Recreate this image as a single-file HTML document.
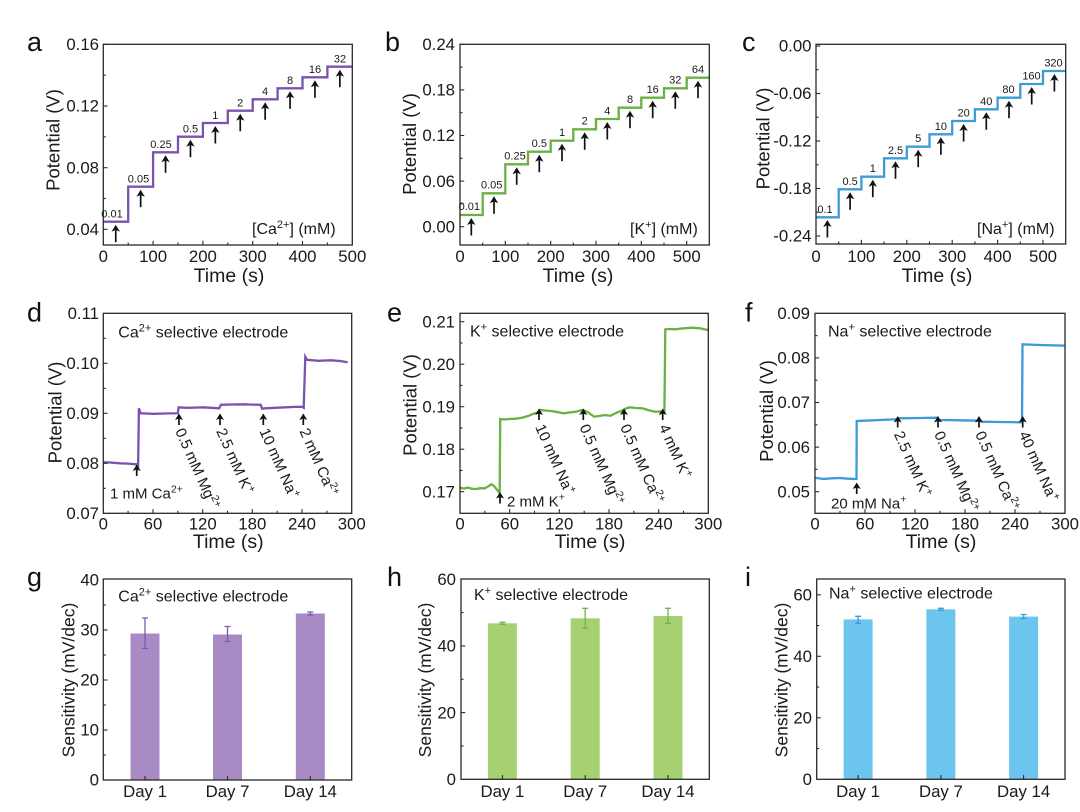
<!DOCTYPE html>
<html><head><meta charset="utf-8"><style>
html,body{margin:0;padding:0;background:#fff;}
svg{display:block;font-family:"Liberation Sans",Arial,sans-serif;}
.fr{fill:none;stroke:#2a2a2a;stroke-width:1.3}
.tk{stroke:#2a2a2a;stroke-width:1.1}
.tl{font-size:16.8px;fill:#1a1a1a}
.at{font-size:18.5px;fill:#1a1a1a}
.tt{font-size:19.5px;fill:#1a1a1a}
.pl{font-size:27px;fill:#111}
.sl{font-size:11px;fill:#1a1a1a;text-anchor:middle}
.an{font-size:15px;fill:#1a1a1a}
.lg{font-size:16px;fill:#1a1a1a}
.pu{fill:none;stroke:#7b52b0;stroke-width:2.3}
.gr{fill:none;stroke:#6ab043;stroke-width:2.3}
.bl{fill:none;stroke:#3d9bd8;stroke-width:2.3}
</style></head><body>
<svg width="1080" height="812" viewBox="0 0 1080 812" xmlns="http://www.w3.org/2000/svg">
<defs>
<g id="aL"><path d="M0,0 L-4.2,7 L0,5.2 L4.2,7 Z" fill="#111"/><line x1="0" y1="4" x2="0" y2="17.5" stroke="#111" stroke-width="1.7"/></g>
<g id="aS"><path d="M0,0 L-4,6.5 L0,5 L4,6.5 Z" fill="#111"/><line x1="0" y1="4" x2="0" y2="11.5" stroke="#111" stroke-width="1.7"/></g>
</defs>
<rect width="1080" height="812" fill="#fff"/>

<!-- ================= Panel a ================= -->
<text class="pl" x="27" y="51">a</text>
<path class="pu" d="M103.3,221.7 H128.2 V186.7 H153.1 V152.3 H178 V136.7 H202.9 V123 H227.8 V110.7 H252.7 V99.3 H277.6 V88.3 H302.5 V77.3 H327.4 V66.7 H352.3"/>
<rect class="fr" x="103.3" y="44.3" width="249" height="200.7"/>
<g class="tk">
<line x1="103.3" y1="44.3" x2="107.5" y2="44.3"/><line x1="103.3" y1="106" x2="107.5" y2="106"/><line x1="103.3" y1="167.7" x2="107.5" y2="167.7"/><line x1="103.3" y1="229.3" x2="107.5" y2="229.3"/>
<line x1="103.3" y1="75.2" x2="105.8" y2="75.2"/><line x1="103.3" y1="136.9" x2="105.8" y2="136.9"/><line x1="103.3" y1="198.5" x2="105.8" y2="198.5"/>
<line x1="153.1" y1="245" x2="153.1" y2="240.8"/><line x1="202.9" y1="245" x2="202.9" y2="240.8"/><line x1="252.7" y1="245" x2="252.7" y2="240.8"/><line x1="302.5" y1="245" x2="302.5" y2="240.8"/>
<line x1="128.2" y1="245" x2="128.2" y2="242.5"/><line x1="178" y1="245" x2="178" y2="242.5"/><line x1="227.8" y1="245" x2="227.8" y2="242.5"/><line x1="277.6" y1="245" x2="277.6" y2="242.5"/><line x1="327.4" y1="245" x2="327.4" y2="242.5"/>
</g>
<g class="tl" text-anchor="end">
<text x="99" y="50">0.16</text><text x="99" y="111.7">0.12</text><text x="99" y="173.4">0.08</text><text x="99" y="235">0.04</text>
</g>
<g class="tl" text-anchor="middle">
<text x="103.3" y="262">0</text><text x="153.1" y="262">100</text><text x="202.9" y="262">200</text><text x="252.7" y="262">300</text><text x="302.5" y="262">400</text><text x="352.3" y="262">500</text>
</g>
<text class="tt" x="229" y="282" text-anchor="middle">Time (s)</text>
<text class="at" transform="translate(59.7,140) rotate(-90)" text-anchor="middle">Potential (V)</text>
<g>
<use href="#aL" x="115.75" y="224.7"/><use href="#aL" x="140.65" y="189.7"/><use href="#aL" x="165.55" y="155.3"/><use href="#aL" x="190.45" y="139.7"/><use href="#aL" x="215.35" y="126"/><use href="#aL" x="240.25" y="113.7"/><use href="#aL" x="265.15" y="102.3"/><use href="#aL" x="290.05" y="91.3"/><use href="#aL" x="314.95" y="80.3"/><use href="#aL" x="339.85" y="69.7"/>
</g>
<g class="sl">
<text x="112" y="217.5">0.01</text><text x="138.5" y="182.5">0.05</text><text x="161" y="148">0.25</text><text x="190.5" y="132.5">0.5</text><text x="215.3" y="118.8">1</text><text x="240.2" y="106.5">2</text><text x="265.1" y="95">4</text><text x="290" y="84">8</text><text x="315" y="73">16</text><text x="340" y="62.3">32</text>
</g>
<text class="lg" x="252" y="234">[Ca<tspan font-size="11" dy="-6">2+</tspan><tspan dy="6">] (mM)</tspan></text>

<!-- ================= Panel b ================= -->
<text class="pl" x="385" y="51">b</text>
<path class="gr" d="M460,215 H482.7 V193.3 H505.3 V164.3 H528 V151.7 H550.7 V140.7 H573.3 V129.3 H596 V119 H618.7 V107.7 H641.3 V97.7 H664 V88.3 H686.7 V77.7 H709.3"/>
<rect class="fr" x="460" y="44.3" width="249.3" height="200.7"/>
<g class="tk">
<line x1="460" y1="44.3" x2="464.2" y2="44.3"/><line x1="460" y1="89.9" x2="464.2" y2="89.9"/><line x1="460" y1="135.5" x2="464.2" y2="135.5"/><line x1="460" y1="181.1" x2="464.2" y2="181.1"/><line x1="460" y1="226.7" x2="464.2" y2="226.7"/>
<line x1="460" y1="67.1" x2="462.5" y2="67.1"/><line x1="460" y1="112.7" x2="462.5" y2="112.7"/><line x1="460" y1="158.3" x2="462.5" y2="158.3"/><line x1="460" y1="203.9" x2="462.5" y2="203.9"/>
<line x1="505.3" y1="245" x2="505.3" y2="240.8"/><line x1="550.7" y1="245" x2="550.7" y2="240.8"/><line x1="596" y1="245" x2="596" y2="240.8"/><line x1="641.3" y1="245" x2="641.3" y2="240.8"/><line x1="686.7" y1="245" x2="686.7" y2="240.8"/>
<line x1="482.7" y1="245" x2="482.7" y2="242.5"/><line x1="528" y1="245" x2="528" y2="242.5"/><line x1="573.3" y1="245" x2="573.3" y2="242.5"/><line x1="618.7" y1="245" x2="618.7" y2="242.5"/><line x1="664" y1="245" x2="664" y2="242.5"/>
</g>
<g class="tl" text-anchor="end">
<text x="455" y="50">0.24</text><text x="455" y="95.6">0.18</text><text x="455" y="141.2">0.12</text><text x="455" y="186.8">0.06</text><text x="455" y="232.4">0.00</text>
</g>
<g class="tl" text-anchor="middle">
<text x="460" y="262">0</text><text x="505.3" y="262">100</text><text x="550.7" y="262">200</text><text x="596" y="262">300</text><text x="641.3" y="262">400</text><text x="686.7" y="262">500</text>
</g>
<text class="tt" x="578" y="282" text-anchor="middle">Time (s)</text>
<text class="at" transform="translate(416,144) rotate(-90)" text-anchor="middle">Potential (V)</text>
<g>
<use href="#aL" x="471.3" y="218"/><use href="#aL" x="494" y="196.3"/><use href="#aL" x="516.7" y="167.3"/><use href="#aL" x="539.3" y="154.7"/><use href="#aL" x="562" y="143.7"/><use href="#aL" x="584.7" y="132.3"/><use href="#aL" x="607.3" y="122"/><use href="#aL" x="630" y="110.7"/><use href="#aL" x="652.7" y="100.7"/><use href="#aL" x="675.3" y="91.3"/><use href="#aL" x="698" y="80.7"/>
</g>
<g class="sl">
<text x="469.3" y="210">0.01</text><text x="491.7" y="188.5">0.05</text><text x="515" y="159.5">0.25</text><text x="539.3" y="147">0.5</text><text x="562" y="136">1</text><text x="584.7" y="124.5">2</text><text x="607.3" y="114.3">4</text><text x="630" y="103">8</text><text x="652.7" y="93">16</text><text x="675.3" y="83.5">32</text><text x="698" y="73">64</text>
</g>
<text class="lg" x="630" y="234">[K<tspan font-size="11" dy="-6">+</tspan><tspan dy="6">] (mM)</tspan></text>

<!-- ================= Panel c ================= -->
<text class="pl" x="742" y="51">c</text>
<path class="bl" d="M816,217.3 H838.7 V189.3 H861.4 V176.7 H884.1 V158.3 H906.8 V146.7 H929.5 V134.3 H952.2 V121 H974.9 V109.3 H997.6 V97.7 H1020.3 V84 H1043 V71 H1065.7"/>
<rect class="fr" x="816" y="44.3" width="249.7" height="199.7"/>
<g class="tk">
<line x1="816" y1="46" x2="820.2" y2="46"/><line x1="816" y1="93.5" x2="820.2" y2="93.5"/><line x1="816" y1="141" x2="820.2" y2="141"/><line x1="816" y1="188.5" x2="820.2" y2="188.5"/><line x1="816" y1="236" x2="820.2" y2="236"/>
<line x1="816" y1="69.75" x2="818.5" y2="69.75"/><line x1="816" y1="117.25" x2="818.5" y2="117.25"/><line x1="816" y1="164.75" x2="818.5" y2="164.75"/><line x1="816" y1="212.25" x2="818.5" y2="212.25"/>
<line x1="861.4" y1="244" x2="861.4" y2="239.8"/><line x1="906.8" y1="244" x2="906.8" y2="239.8"/><line x1="952.2" y1="244" x2="952.2" y2="239.8"/><line x1="997.6" y1="244" x2="997.6" y2="239.8"/><line x1="1043" y1="244" x2="1043" y2="239.8"/>
<line x1="838.7" y1="244" x2="838.7" y2="241.5"/><line x1="884.1" y1="244" x2="884.1" y2="241.5"/><line x1="929.5" y1="244" x2="929.5" y2="241.5"/><line x1="974.9" y1="244" x2="974.9" y2="241.5"/><line x1="1020.3" y1="244" x2="1020.3" y2="241.5"/>
</g>
<g class="tl" text-anchor="end">
<text x="811.5" y="51.7">0.00</text><text x="811.5" y="99.2">-0.06</text><text x="811.5" y="146.7">-0.12</text><text x="811.5" y="194.2">-0.18</text><text x="811.5" y="241.7">-0.24</text>
</g>
<g class="tl" text-anchor="middle">
<text x="816" y="262">0</text><text x="861.4" y="262">100</text><text x="906.8" y="262">200</text><text x="952.2" y="262">300</text><text x="997.6" y="262">400</text><text x="1043" y="262">500</text>
</g>
<text class="tt" x="937" y="282" text-anchor="middle">Time (s)</text>
<text class="at" transform="translate(769.7,138.5) rotate(-90)" text-anchor="middle">Potential (V)</text>
<g>
<use href="#aL" x="827.4" y="220"/><use href="#aL" x="850.1" y="192.3"/><use href="#aL" x="872.8" y="179.7"/><use href="#aL" x="895.5" y="161.3"/><use href="#aL" x="918.2" y="149.7"/><use href="#aL" x="940.9" y="137.3"/><use href="#aL" x="963.6" y="124"/><use href="#aL" x="986.3" y="112.3"/><use href="#aL" x="1009" y="100.7"/><use href="#aL" x="1031.7" y="87"/><use href="#aL" x="1054.4" y="74"/>
</g>
<g class="sl">
<text x="825" y="212.8">0.1</text><text x="850.1" y="184.8">0.5</text><text x="872.8" y="172.2">1</text><text x="895.5" y="153.8">2.5</text><text x="918.2" y="142.2">5</text><text x="940.9" y="129.8">10</text><text x="963.6" y="116.5">20</text><text x="986.3" y="104.8">40</text><text x="1008.5" y="93.2">80</text><text x="1031.5" y="79.5">160</text><text x="1053.5" y="66.5">320</text>
</g>
<text class="lg" x="977" y="234">[Na<tspan font-size="11" dy="-6">+</tspan><tspan dy="6">] (mM)</tspan></text>

<!-- ================= Panel d ================= -->
<text class="pl" x="27" y="321.5">d</text>
<polyline class="pu" points="103.3,462.3 110,462.5 119.9,463.3 128,463.6 136.4,464.3 138.1,465.8 138.9,408.3 140.6,413.3 146,413.5 153,413.8 165,413.5 177.8,413.3 178.6,407.3 186.1,407.8 195,407.6 202.7,407.3 211,407.8 219.2,408.3 220.9,404.8 232,404.5 244.1,404.3 252,404.6 260.6,404.8 262.3,408.8 264.8,408.3 275,407.8 285.5,407.3 295,406.9 302,406.8 303.7,407.8 305.3,356.8 307,359.8 318.6,360.8 325,360.5 331,360.3 340,361 347.6,362.3"/>
<rect class="fr" x="103.3" y="313.3" width="248.4" height="200"/>
<g class="tk">
<line x1="103.3" y1="363.3" x2="107.5" y2="363.3"/><line x1="103.3" y1="413.3" x2="107.5" y2="413.3"/><line x1="103.3" y1="463.3" x2="107.5" y2="463.3"/>
<line x1="103.3" y1="338.3" x2="105.8" y2="338.3"/><line x1="103.3" y1="388.3" x2="105.8" y2="388.3"/><line x1="103.3" y1="438.3" x2="105.8" y2="438.3"/><line x1="103.3" y1="488.3" x2="105.8" y2="488.3"/>
<line x1="153" y1="513.3" x2="153" y2="509.1"/><line x1="202.7" y1="513.3" x2="202.7" y2="509.1"/><line x1="252.3" y1="513.3" x2="252.3" y2="509.1"/><line x1="302" y1="513.3" x2="302" y2="509.1"/>
<line x1="128.1" y1="513.3" x2="128.1" y2="510.8"/><line x1="177.8" y1="513.3" x2="177.8" y2="510.8"/><line x1="227.5" y1="513.3" x2="227.5" y2="510.8"/><line x1="277.2" y1="513.3" x2="277.2" y2="510.8"/><line x1="326.9" y1="513.3" x2="326.9" y2="510.8"/>
</g>
<g class="tl" text-anchor="end">
<text x="99" y="319">0.11</text><text x="99" y="369">0.10</text><text x="99" y="419">0.09</text><text x="99" y="469">0.08</text><text x="99" y="519">0.07</text>
</g>
<g class="tl" text-anchor="middle">
<text x="103.3" y="529.5">0</text><text x="153" y="529.5">60</text><text x="202.7" y="529.5">120</text><text x="252.3" y="529.5">180</text><text x="302" y="529.5">240</text><text x="351.7" y="529.5">300</text>
</g>
<text class="tt" x="228.3" y="548" text-anchor="middle">Time (s)</text>
<text class="at" transform="translate(61.3,412.5) rotate(-90)" text-anchor="middle">Potential (V)</text>
<text class="lg" x="118.3" y="337.3">Ca<tspan font-size="11" dy="-6">2+</tspan><tspan dy="6"> selective electrode</tspan></text>
<use href="#aS" x="136.7" y="464.5"/><use href="#aS" x="179" y="413.5"/><use href="#aS" x="220" y="413.5"/><use href="#aS" x="263.3" y="413.5"/><use href="#aS" x="303.3" y="413.5"/>
<text class="an" x="110" y="498.3">1 mM Ca<tspan font-size="10.5" dy="-6">2+</tspan></text>
<text class="an" transform="translate(175,431) rotate(66)">0.5 mM Mg<tspan font-size="10.5" dy="-6">2+</tspan></text>
<text class="an" transform="translate(216,431) rotate(66)">2.5 mM K<tspan font-size="10.5" dy="-6">+</tspan></text>
<text class="an" transform="translate(259.3,431) rotate(66)">10 mM Na<tspan font-size="10.5" dy="-6">+</tspan></text>
<text class="an" transform="translate(299.3,431) rotate(66)">2 mM Ca<tspan font-size="10.5" dy="-6">2+</tspan></text>

<!-- ================= Panel e ================= -->
<text class="pl" x="387" y="321.5">e</text>
<polyline class="gr" points="460,487.7 464,488.5 468.3,487.6 472,488.8 476.6,489 480,488.2 484.8,488.3 488,486.5 491.5,484.3 494,486 497.2,490 498.9,492.3 499.7,492 500.2,419 504,419.5 509.7,419 515,418.8 522.1,417.7 528,416 534.5,413.3 539.5,412.3 540.3,410 545,410.5 551,411 557,412 563.5,413.3 569,412.5 575.9,411.7 582.5,410 585,410.8 588.3,412.3 591,414.5 594.1,416.7 599,416 604.8,415 608,415.5 610.6,415.7 614,414 617.3,412.3 620,411.5 623.1,410 626,408.5 629.7,407.3 636,408 642.1,408.3 648,410 654.5,411.7 660,411.5 664.4,411.7 665.3,329.3 670,329 675.2,329.3 682,328.5 691.8,327.7 700,328.3 705,329.5 708.3,330"/>
<rect class="fr" x="460" y="313.3" width="248.3" height="200"/>
<g class="tk">
<line x1="460" y1="321.7" x2="464.2" y2="321.7"/><line x1="460" y1="364.2" x2="464.2" y2="364.2"/><line x1="460" y1="406.7" x2="464.2" y2="406.7"/><line x1="460" y1="449.2" x2="464.2" y2="449.2"/><line x1="460" y1="491.7" x2="464.2" y2="491.7"/>
<line x1="460" y1="342.95" x2="462.5" y2="342.95"/><line x1="460" y1="385.45" x2="462.5" y2="385.45"/><line x1="460" y1="427.95" x2="462.5" y2="427.95"/><line x1="460" y1="470.45" x2="462.5" y2="470.45"/>
<line x1="509.7" y1="513.3" x2="509.7" y2="509.1"/><line x1="559.3" y1="513.3" x2="559.3" y2="509.1"/><line x1="609" y1="513.3" x2="609" y2="509.1"/><line x1="658.7" y1="513.3" x2="658.7" y2="509.1"/>
<line x1="484.8" y1="513.3" x2="484.8" y2="510.8"/><line x1="534.5" y1="513.3" x2="534.5" y2="510.8"/><line x1="584.2" y1="513.3" x2="584.2" y2="510.8"/><line x1="633.8" y1="513.3" x2="633.8" y2="510.8"/><line x1="683.5" y1="513.3" x2="683.5" y2="510.8"/>
</g>
<g class="tl" text-anchor="end">
<text x="455" y="327.4">0.21</text><text x="455" y="369.9">0.20</text><text x="455" y="412.4">0.19</text><text x="455" y="454.9">0.18</text><text x="455" y="497.4">0.17</text>
</g>
<g class="tl" text-anchor="middle">
<text x="460" y="529.5">0</text><text x="509.7" y="529.5">60</text><text x="559.3" y="529.5">120</text><text x="609" y="529.5">180</text><text x="658.7" y="529.5">240</text><text x="708.3" y="529.5">300</text>
</g>
<text class="tt" x="590" y="548" text-anchor="middle">Time (s)</text>
<text class="at" transform="translate(416.3,405) rotate(-90)" text-anchor="middle">Potential (V)</text>
<text class="lg" x="470" y="336.7">K<tspan font-size="11" dy="-6">+</tspan><tspan dy="6"> selective electrode</tspan></text>
<use href="#aS" x="500" y="492"/><use href="#aS" x="539" y="408.5"/><use href="#aS" x="583.3" y="408.5"/><use href="#aS" x="624" y="408.5"/><use href="#aS" x="662.7" y="408.5"/>
<text class="an" x="507" y="506.7">2 mM K<tspan font-size="10.5" dy="-6">+</tspan></text>
<text class="an" transform="translate(535,427) rotate(66)">10 mM Na<tspan font-size="10.5" dy="-6">+</tspan></text>
<text class="an" transform="translate(579.3,427) rotate(66)">0.5 mM Mg<tspan font-size="10.5" dy="-6">2+</tspan></text>
<text class="an" transform="translate(620,427) rotate(66)">0.5 mM Ca<tspan font-size="10.5" dy="-6">2+</tspan></text>
<text class="an" transform="translate(658.7,427) rotate(66)">4 mM K<tspan font-size="10.5" dy="-6">+</tspan></text>

<!-- ================= Panel f ================= -->
<text class="pl" x="745" y="321.5">f</text>
<polyline class="bl" points="815,477.7 823.3,479 832,478.3 840,478 848,478.7 855,479 856.5,479 856.7,421 865,420.7 880,420 896.7,419.3 898.3,418.3 920,418 937.5,417.7 939.2,420 960,420.3 979.2,420.7 981.7,421.7 1000,422 1022,422.3 1022.5,344.3 1040,345 1065,345.7"/>
<rect class="fr" x="815" y="313.3" width="250" height="200"/>
<g class="tk">
<line x1="815" y1="357.9" x2="819.2" y2="357.9"/><line x1="815" y1="402.5" x2="819.2" y2="402.5"/><line x1="815" y1="447.1" x2="819.2" y2="447.1"/><line x1="815" y1="491.7" x2="819.2" y2="491.7"/>
<line x1="815" y1="335.6" x2="817.5" y2="335.6"/><line x1="815" y1="380.2" x2="817.5" y2="380.2"/><line x1="815" y1="424.8" x2="817.5" y2="424.8"/><line x1="815" y1="469.4" x2="817.5" y2="469.4"/>
<line x1="865" y1="513.3" x2="865" y2="509.1"/><line x1="915" y1="513.3" x2="915" y2="509.1"/><line x1="965" y1="513.3" x2="965" y2="509.1"/><line x1="1015" y1="513.3" x2="1015" y2="509.1"/>
<line x1="840" y1="513.3" x2="840" y2="510.8"/><line x1="890" y1="513.3" x2="890" y2="510.8"/><line x1="940" y1="513.3" x2="940" y2="510.8"/><line x1="990" y1="513.3" x2="990" y2="510.8"/><line x1="1040" y1="513.3" x2="1040" y2="510.8"/>
</g>
<g class="tl" text-anchor="end">
<text x="810" y="319">0.09</text><text x="810" y="363.6">0.08</text><text x="810" y="408.2">0.07</text><text x="810" y="452.8">0.06</text><text x="810" y="497.4">0.05</text>
</g>
<g class="tl" text-anchor="middle">
<text x="815" y="529.5">0</text><text x="865" y="529.5">60</text><text x="915" y="529.5">120</text><text x="965" y="529.5">180</text><text x="1015" y="529.5">240</text><text x="1065" y="529.5">300</text>
</g>
<text class="tt" x="941" y="548" text-anchor="middle">Time (s)</text>
<text class="at" transform="translate(773,411) rotate(-90)" text-anchor="middle">Potential (V)</text>
<text class="lg" x="828" y="336.7">Na<tspan font-size="11" dy="-6">+</tspan><tspan dy="6"> selective electrode</tspan></text>
<use href="#aS" x="856.7" y="482.5"/><use href="#aS" x="897.7" y="416"/><use href="#aS" x="938" y="416"/><use href="#aS" x="979" y="416"/><use href="#aS" x="1022.7" y="416"/>
<text class="an" x="831" y="508.3">20 mM Na<tspan font-size="10.5" dy="-6">+</tspan></text>
<text class="an" transform="translate(893.7,434) rotate(66)">2.5 mM K<tspan font-size="10.5" dy="-6">+</tspan></text>
<text class="an" transform="translate(934,434) rotate(66)">0.5 mM Mg<tspan font-size="10.5" dy="-6">2+</tspan></text>
<text class="an" transform="translate(975,434) rotate(66)">0.5 mM Ca<tspan font-size="10.5" dy="-6">2+</tspan></text>
<text class="an" transform="translate(1018.7,434) rotate(66)">40 mM Na<tspan font-size="10.5" dy="-6">+</tspan></text>

<!-- ================= Panel g ================= -->
<text class="pl" x="27" y="586">g</text>
<g fill="#a88bc4">
<rect x="130.5" y="633.5" width="29" height="146.5"/><rect x="213" y="634.5" width="29" height="145.5"/><rect x="295.8" y="613.5" width="29" height="166.5"/>
</g>
<g stroke="#7d5aad" stroke-width="1.3" fill="none">
<path d="M145,648.5 V618 M142,648.5 H148 M142,618 H148"/>
<path d="M227.5,641.5 V626.5 M224.5,641.5 H230.5 M224.5,626.5 H230.5"/>
<path d="M310.3,615 V612 M307.3,615 H313.3 M307.3,612 H313.3"/>
</g>
<rect class="fr" x="103.3" y="579" width="248.4" height="201"/>
<g class="tk">
<line x1="103.3" y1="630" x2="107.5" y2="630"/><line x1="103.3" y1="680" x2="107.5" y2="680"/><line x1="103.3" y1="730" x2="107.5" y2="730"/>
<line x1="103.3" y1="605" x2="105.8" y2="605"/><line x1="103.3" y1="655" x2="105.8" y2="655"/><line x1="103.3" y1="705" x2="105.8" y2="705"/><line x1="103.3" y1="755" x2="105.8" y2="755"/>
<line x1="145" y1="780" x2="145" y2="775.8"/><line x1="227.5" y1="780" x2="227.5" y2="775.8"/><line x1="310.3" y1="780" x2="310.3" y2="775.8"/>
</g>
<g class="tl" text-anchor="end">
<text x="99" y="585.5">40</text><text x="99" y="635.7">30</text><text x="99" y="685.7">20</text><text x="99" y="735.7">10</text><text x="99" y="785.7">0</text>
</g>
<g class="tl" text-anchor="middle">
<text x="145" y="797">Day 1</text><text x="227.5" y="797">Day 7</text><text x="310.3" y="797">Day 14</text>
</g>
<text class="at" style="font-size:17.5px" transform="translate(74.5,680) rotate(-90)" text-anchor="middle">Sensitivity (mV/dec)</text>
<text class="lg" x="118.3" y="601.7">Ca<tspan font-size="11" dy="-6">2+</tspan><tspan dy="6"> selective electrode</tspan></text>

<!-- ================= Panel h ================= -->
<text class="pl" x="387" y="586">h</text>
<g fill="#a6d172">
<rect x="487.9" y="623.3" width="29" height="156"/><rect x="570.7" y="618.3" width="29" height="161"/><rect x="653.5" y="616" width="29" height="163.3"/>
</g>
<g stroke="#78b344" stroke-width="1.3" fill="none">
<path d="M502.4,624.3 V622.3 M499.4,624.3 H505.4 M499.4,622.3 H505.4"/>
<path d="M585.2,628.3 V608.3 M582.2,628.3 H588.2 M582.2,608.3 H588.2"/>
<path d="M668,623.3 V608.3 M665,623.3 H671 M665,608.3 H671"/>
</g>
<rect class="fr" x="461" y="579" width="248.3" height="200.3"/>
<g class="tk">
<line x1="461" y1="646" x2="465.2" y2="646"/><line x1="461" y1="712.6" x2="465.2" y2="712.6"/>
<line x1="461" y1="612.6" x2="463.5" y2="612.6"/><line x1="461" y1="679.3" x2="463.5" y2="679.3"/><line x1="461" y1="746" x2="463.5" y2="746"/>
<line x1="502.4" y1="779.3" x2="502.4" y2="775.1"/><line x1="585.2" y1="779.3" x2="585.2" y2="775.1"/><line x1="668" y1="779.3" x2="668" y2="775.1"/>
</g>
<g class="tl" text-anchor="end">
<text x="456" y="585">60</text><text x="456" y="651.7">40</text><text x="456" y="718.3">20</text><text x="456" y="785">0</text>
</g>
<g class="tl" text-anchor="middle">
<text x="502.4" y="797">Day 1</text><text x="585.2" y="797">Day 7</text><text x="668" y="797">Day 14</text>
</g>
<text class="at" style="font-size:17.5px" transform="translate(430.8,680) rotate(-90)" text-anchor="middle">Sensitivity (mV/dec)</text>
<text class="lg" x="474" y="600">K<tspan font-size="11" dy="-6">+</tspan><tspan dy="6"> selective electrode</tspan></text>

<!-- ================= Panel i ================= -->
<text class="pl" x="745" y="586">i</text>
<g fill="#6cc5ef">
<rect x="843.6" y="619.4" width="29" height="159.9"/><rect x="926.4" y="609.3" width="29" height="170"/><rect x="1009.1" y="616.6" width="29" height="162.7"/>
</g>
<g stroke="#3b9bd6" stroke-width="1.3" fill="none">
<path d="M858.1,623.4 V616.3 M855.1,623.4 H861.1 M855.1,616.3 H861.1"/>
<path d="M940.9,610.2 V608.3 M937.9,610.2 H943.9 M937.9,608.3 H943.9"/>
<path d="M1023.6,618.5 V614.5 M1020.6,618.5 H1026.6 M1020.6,614.5 H1026.6"/>
</g>
<rect class="fr" x="816.7" y="579" width="248.3" height="200.3"/>
<g class="tk">
<line x1="816.7" y1="594.8" x2="820.9" y2="594.8"/><line x1="816.7" y1="656.3" x2="820.9" y2="656.3"/><line x1="816.7" y1="717.8" x2="820.9" y2="717.8"/>
<line x1="816.7" y1="625.55" x2="819.2" y2="625.55"/><line x1="816.7" y1="687.05" x2="819.2" y2="687.05"/><line x1="816.7" y1="748.55" x2="819.2" y2="748.55"/>
<line x1="858.1" y1="779.3" x2="858.1" y2="775.1"/><line x1="940.9" y1="779.3" x2="940.9" y2="775.1"/><line x1="1023.6" y1="779.3" x2="1023.6" y2="775.1"/>
</g>
<g class="tl" text-anchor="end">
<text x="812" y="600.5">60</text><text x="812" y="662">40</text><text x="812" y="723.5">20</text><text x="812" y="785">0</text>
</g>
<g class="tl" text-anchor="middle">
<text x="858.1" y="797">Day 1</text><text x="940.9" y="797">Day 7</text><text x="1023.6" y="797">Day 14</text>
</g>
<text class="at" style="font-size:17.5px" transform="translate(787.5,680) rotate(-90)" text-anchor="middle">Sensitivity (mV/dec)</text>
<text class="lg" x="829" y="598.3">Na<tspan font-size="11" dy="-6">+</tspan><tspan dy="6"> selective electrode</tspan></text>
</svg>
</body></html>
